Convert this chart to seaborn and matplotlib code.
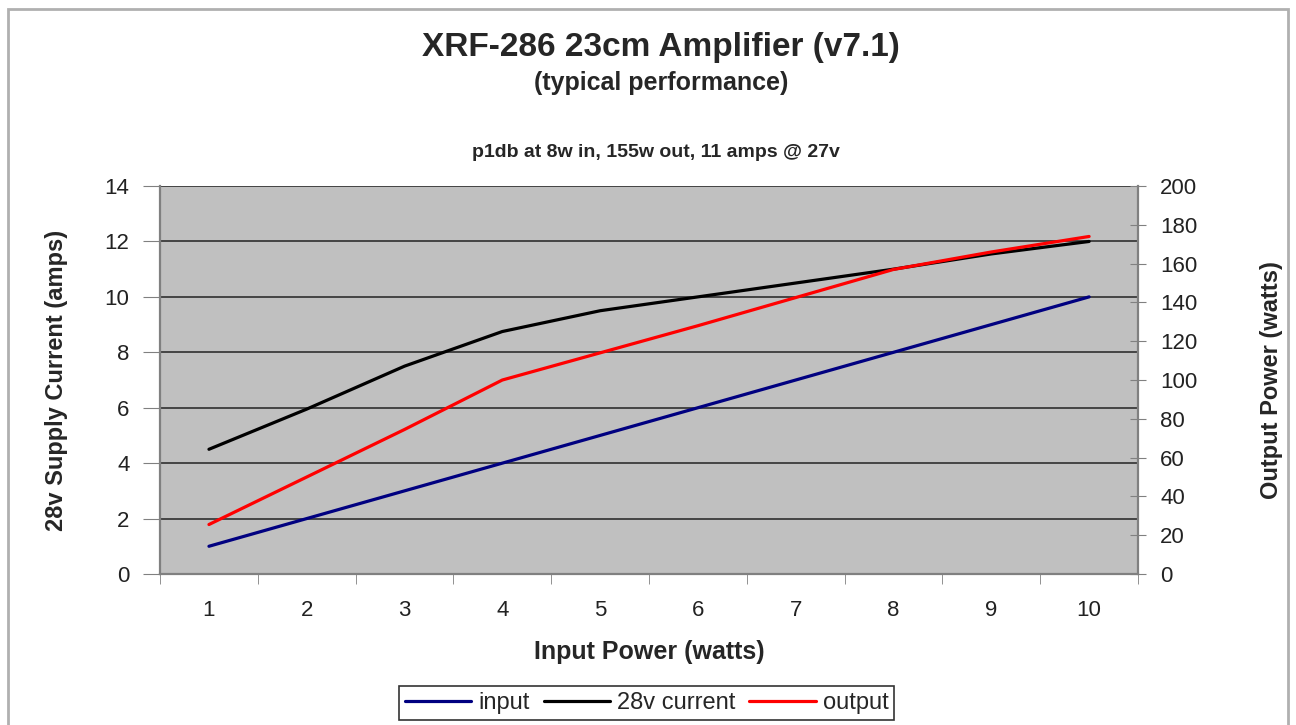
import numpy as np
import pandas as pd
import seaborn as sns
import matplotlib.pyplot as plt
from matplotlib.patches import Rectangle
from matplotlib.lines import Line2D

# data
input_watts = [1, 2, 3, 4, 5, 6, 7, 8, 9, 10]
input_series = [1, 2, 3, 4, 5, 6, 7, 8, 9, 10]
current_amps = [4.5, 5.95, 7.5, 8.75, 9.5, 10.0, 10.5, 11.0, 11.55, 12.0]
output_watts = [25.5, 50, 74.5, 100, 114, 128, 142.5, 157, 166, 174]

left_ticks = [0, 2, 4, 6, 8, 10, 12, 14]
right_ticks = [0, 20, 40, 60, 80, 100, 120, 140, 160, 180, 200]

df = pd.DataFrame({"watts": input_watts, "input": input_series,
                   "current": current_amps, "output": output_watts})

sns.set_style("white")
plt.rcParams['font.family'] = ['Liberation Sans', 'DejaVu Sans']

fig = plt.figure(figsize=(12.96, 7.25), dpi=100)
fig.patches.append(Rectangle((0.006, -0.01), 0.988, 0.998, transform=fig.transFigure,
                             fill=False, edgecolor='#b0b0b0', linewidth=2))

ax = fig.add_axes([0.1235, 0.2083, 0.7546, 0.5351])
ax.set_facecolor('#c0c0c0')
ax2 = ax.twinx()

sns.lineplot(data=df, x="watts", y="input", ax=ax, color='#000080', linewidth=2.3)
sns.lineplot(data=df, x="watts", y="current", ax=ax, color='black', linewidth=2.3)
sns.lineplot(data=df, x="watts", y="output", ax=ax2, color='#ff0000', linewidth=2.3)

ax.set_xlim(0.5, 10.5)
ax.set_ylim(0, 14)
ax2.set_ylim(0, 200)
ax.set_yticks(left_ticks)
ax2.set_yticks(right_ticks)
ax.set_xticks(input_watts)
ax.set_xticks(np.arange(0.5, 11, 1), minor=True)

ax.yaxis.grid(True, color='#3a3a3a', linewidth=1.3)
ax.set_axisbelow(True)

for a in (ax, ax2):
    for s in a.spines.values():
        s.set_visible(False)
ax.spines['left'].set_visible(True)
ax.spines['left'].set_color('#808080')
ax.spines['left'].set_linewidth(1.6)
ax.spines['bottom'].set_visible(True)
ax.spines['bottom'].set_color('#808080')
ax.spines['bottom'].set_linewidth(1.6)
ax2.spines['right'].set_visible(True)
ax2.spines['right'].set_color('#808080')
ax2.spines['right'].set_linewidth(1.6)

ax.tick_params(axis='y', left=True, direction='out', length=12, color='#808080',
               labelsize=16, labelcolor='#222222', pad=10)
ax.tick_params(axis='x', which='major', bottom=True, length=0, labelsize=16,
               labelcolor='#222222', pad=19)
ax.tick_params(axis='x', which='minor', bottom=True, direction='out', length=7,
               color='#808080')
ax2.tick_params(axis='y', right=True, direction='inout', length=12, color='#808080',
                labelsize=16, labelcolor='#222222', pad=10)

ax.set_xlabel("Input Power (watts)", fontsize=18, fontweight='bold')
ax.xaxis.set_label_coords(0.5, -0.17)
ax.set_ylabel("28v Supply Current (amps)", fontsize=17, fontweight='bold')
ax.yaxis.set_label_coords(-0.094, 0.5)
ax2.set_ylabel("Output Power (watts)", fontsize=17, fontweight='bold', rotation=90)
ax2.yaxis.set_label_coords(1.125, 0.5)

fig.text(0.51, 0.935, "XRF-286 23cm Amplifier (v7.1)", ha='center', va='center',
         fontsize=24, fontweight='bold')
fig.text(0.51, 0.886, "(typical performance)", ha='center', va='center',
         fontsize=18, fontweight='bold')
fig.text(0.506, 0.79, "p1db at 8w in, 155w out, 11 amps @ 27v", ha='center', va='center',
         fontsize=14, fontweight='bold')

handles = [Line2D([], [], color='#000080', linewidth=2.3),
           Line2D([], [], color='black', linewidth=2.3),
           Line2D([], [], color='#ff0000', linewidth=2.3)]
leg = fig.legend(handles, ["input", "28v current", "output"], loc='center',
                 bbox_to_anchor=(0.499, 0.03), ncol=3, fontsize=17, frameon=True,
                 fancybox=False, edgecolor='black', handlelength=2.8,
                 handletextpad=0.3, columnspacing=0.6, borderpad=0.25)
leg.get_frame().set_linewidth(1.2)

fig.savefig("out.png", dpi=100)
